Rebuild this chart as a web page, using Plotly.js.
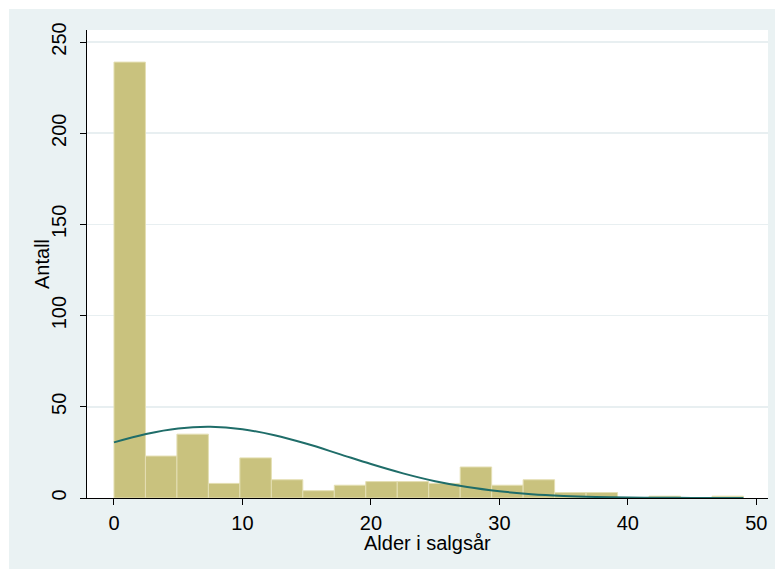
<!DOCTYPE html>
<html>
<head>
<meta charset="utf-8">
<script src="https://cdn.plot.ly/plotly-3.0.1.min.js"></script>
<style>
  html, body { margin: 0; padding: 0; background: #ffffff; }
  #chart { position: absolute; left: 9px; top: 9px; width: 766px; height: 560px; }
</style>
</head>
<body>
<div id="chart"></div>
<script>
// Histogram of age in year of sale: lower bin edges and counts per bin
const binWidth = 2.45;
const binStart = [0, 2.45, 4.9, 7.35, 9.8, 12.25, 14.7, 17.15, 19.6, 22.05,
                  24.5, 26.95, 29.4, 31.85, 34.3, 36.75, 39.2, 41.65, 44.1, 46.55];
const counts   = [239, 23, 35, 8, 22, 10, 4, 7, 9, 9,
                  8, 17, 7, 10, 3, 3, 0, 1, 0, 1];

// Overlaid normal curve (frequency scale), sampled along the age axis
const curveX = [0, 2.5, 5, 7.5, 10, 12.5, 15, 17.5, 20, 22.5, 25, 27.5,
                30, 32.5, 35, 37.5, 40, 42.5, 45, 47.5, 49];
const curveY = [30.5, 35.1, 38.1, 39.0, 37.7, 34.4, 29.7, 24.2, 18.6, 13.5, 9.2, 6.0,
                3.7, 2.1, 1.15, 0.59, 0.29, 0.13, 0.05, 0.02, 0.01];

const xTicks = [0, 10, 20, 30, 40, 50];
const yTicks = [0, 50, 100, 150, 200, 250];

const xTitle = 'Alder i salgsår';
const yTitle = 'Antall';

const family = 'Liberation Sans, Arial, sans-serif';
const textFont = { family: family, color: '#000000', size: 20 };

const bars = {
  type: 'bar',
  x: binStart,
  y: counts,
  width: binWidth,
  offset: 0,
  marker: { color: '#c9c27e', line: { color: '#e4dfb3', width: 1 } },
  hoverinfo: 'x+y',
  showlegend: false
};

const curve = {
  type: 'scatter',
  mode: 'lines',
  x: curveX,
  y: curveY,
  line: { color: '#1f6d69', width: 2, shape: 'spline' },
  showlegend: false
};

const layout = {
  width: 766,
  height: 560,
  margin: { l: 78, r: 7, t: 21, b: 71 },
  paper_bgcolor: '#eaf2f3',
  plot_bgcolor: '#ffffff',
  font: textFont,
  bargap: 0,
  xaxis: {
    range: [-2.1, 50.91],
    tickvals: xTicks,
    ticktext: xTicks.map(String),
    ticks: 'outside',
    ticklen: 6,
    tickcolor: '#000000',
    tickwidth: 1,
    ticklabelstandoff: 1,
    showline: true,
    linecolor: '#000000',
    linewidth: 1,
    showgrid: false,
    zeroline: false,
    tickfont: textFont
  },
  yaxis: {
    range: [0, 256.6],
    tickvals: yTicks,
    ticktext: yTicks.map(String),
    tickangle: -90,
    ticks: 'outside',
    ticklen: 6,
    tickcolor: '#000000',
    tickwidth: 1,
    ticklabelstandoff: 6,
    showline: true,
    linecolor: '#000000',
    linewidth: 1,
    showgrid: true,
    gridcolor: '#e8eff1',
    gridwidth: 1.5,
    zeroline: false,
    tickfont: textFont
  },
  annotations: [
    { text: xTitle, xref: 'paper', yref: 'paper', x: 0.5, y: 0,
      xanchor: 'center', yanchor: 'middle', yshift: -45, showarrow: false, font: textFont },
    { text: yTitle, xref: 'paper', yref: 'paper', x: 0, y: 0.5, textangle: -90,
      xanchor: 'center', yanchor: 'middle', xshift: -45, showarrow: false, font: textFont }
  ]
};

Plotly.newPlot('chart', [bars, curve], layout, { staticPlot: true, displayModeBar: false });
</script>
</body>
</html>
